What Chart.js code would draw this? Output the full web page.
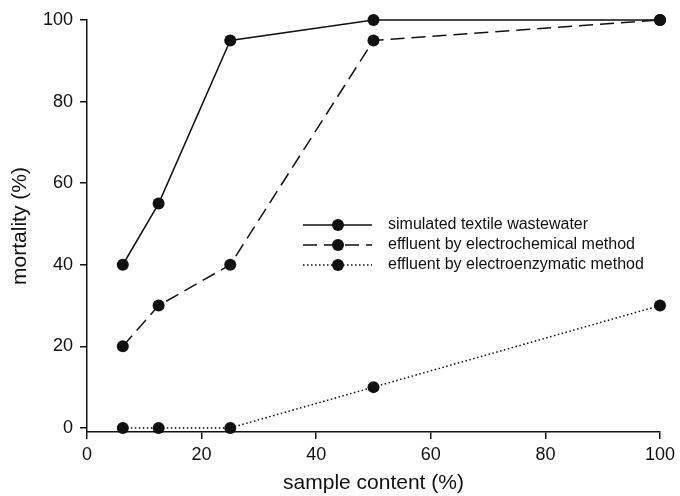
<!DOCTYPE html>
<html>
<head>
<meta charset="utf-8">
<script src="https://cdn.jsdelivr.net/npm/chart.js@4.4.1/dist/chart.umd.min.js"></script>
<style>
html, body { margin: 0; padding: 0; background: #fff; }
#wrap { width: 680px; height: 496px; }
</style>
</head>
<body>
<div id="wrap"><canvas id="mortalityChart" width="680" height="496"></canvas></div>
<script>
// values
const sampleContent = [6.25, 12.5, 25, 50, 100];
const simulatedWastewater = [40, 55, 95, 100, 100];
const electrochemical = [20, 30, 40, 95, 100];
const electroenzymatic = [0, 0, 0, 10, 30];
const seriesLabels = [
    'simulated textile wastewater',
    'effluent by electrochemical method',
    'effluent by electroenzymatic method'
];
const xTicks = [0, 20, 40, 60, 80, 100];
const yTicks = [0, 20, 40, 60, 80, 100];

const fontFamily = '"Liberation Sans", Arial, Helvetica, sans-serif';
const ink = '#111';

function toPoints(ys) {
    return sampleContent.map((x, i) => ({ x: x, y: ys[i] }));
}

function makeSeries(label, ys, dash) {
    return {
        label: label,
        data: toPoints(ys),
        borderColor: ink,
        backgroundColor: ink,
        borderWidth: 1.5,
        borderDash: dash,
        pointRadius: 6,
        pointHoverRadius: 6,
        pointBorderWidth: 0,
        showLine: true,
        tension: 0,
        clip: false
    };
}

// legend drawn inside the plot, like the original figure
const insideLegend = {
    id: 'insideLegend',
    afterDraw(chart) {
        const ctx = chart.ctx;
        ctx.save();
        ctx.font = '16px ' + fontFamily;
        ctx.textBaseline = 'middle';
        ctx.textAlign = 'left';
        chart.data.datasets.forEach((ds, i) => {
            const y = 225 + i * 20;
            ctx.strokeStyle = ds.borderColor;
            ctx.lineWidth = ds.borderWidth;
            ctx.setLineDash(ds.borderDash || []);
            ctx.beginPath();
            ctx.moveTo(303, y);
            ctx.lineTo(372, y);
            ctx.stroke();
            ctx.setLineDash([]);
            ctx.fillStyle = ds.backgroundColor;
            ctx.beginPath();
            ctx.arc(338, y, 6, 0, Math.PI * 2);
            ctx.fill();
            ctx.fillStyle = ink;
            ctx.fillText(ds.label, 388, y);
        });
        ctx.restore();
    }
};

const ctx = document.getElementById('mortalityChart').getContext('2d');

new Chart(ctx, {
    type: 'scatter',
    data: {
        datasets: [
            makeSeries(seriesLabels[0], simulatedWastewater, []),
            makeSeries(seriesLabels[1], electrochemical, [14, 7]),
            makeSeries(seriesLabels[2], electroenzymatic, [1.5, 2.5])
        ]
    },
    options: {
        responsive: false,
        animation: false,
        devicePixelRatio: 1,
        layout: {
            padding: { left: 0, right: 19, top: 20, bottom: 0 }
        },
        scales: {
            x: {
                type: 'linear',
                min: 0,
                max: 100,
                afterBuildTicks: s => { s.ticks = xTicks.map(v => ({ value: v })); },
                afterFit: s => { s.height = 64; },
                grid: { drawOnChartArea: false, drawTicks: true, tickLength: 7, color: ink, lineWidth: 1.5 },
                border: { display: true, color: ink, width: 1.5 },
                ticks: { color: ink, font: { family: fontFamily, size: 18 }, padding: 5, maxRotation: 0 },
                title: {
                    display: true,
                    text: 'sample content (%)',
                    color: ink,
                    font: { family: fontFamily, size: 21 },
                    padding: { top: 0, bottom: 0 }
                }
            },
            y: {
                type: 'linear',
                min: -1,
                max: 100,
                afterBuildTicks: s => { s.ticks = yTicks.map(v => ({ value: v })); },
                afterFit: s => { s.width = 87; },
                grid: { drawOnChartArea: false, drawTicks: true, tickLength: 7, color: ink, lineWidth: 1.5 },
                border: { display: true, color: ink, width: 1.5 },
                ticks: { color: ink, font: { family: fontFamily, size: 18 }, padding: 7 },
                title: {
                    display: true,
                    text: 'mortality (%)',
                    color: ink,
                    font: { family: fontFamily, size: 21 },
                    padding: { top: 8, bottom: 0 }
                }
            }
        },
        plugins: {
            legend: { display: false },
            tooltip: { enabled: false }
        }
    },
    plugins: [insideLegend]
});
</script>
</body>
</html>
